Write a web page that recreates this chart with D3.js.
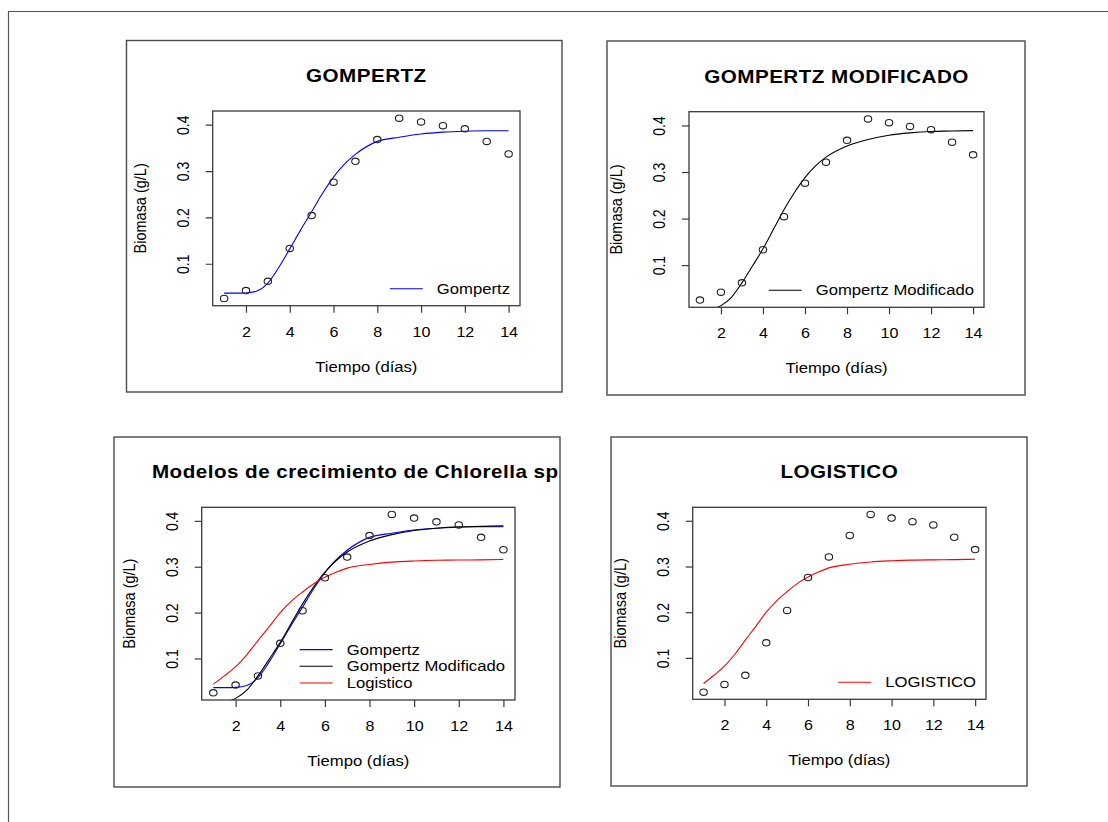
<!DOCTYPE html>
<html>
<head>
<meta charset="utf-8">
<script src="https://cdn.jsdelivr.net/npm/d3@7"></script>
<style>
    body { margin: 0; background: #fff; }
    svg text { font-family: "Liberation Sans", Arial, sans-serif; fill: #000; }
</style>
</head>
<body>
<div id="figura"></div>
<script>
// datos observados
var dias = [1, 2, 3, 4, 5, 6, 7, 8, 9, 10, 11, 12, 13, 14];
var biomasa = [0.025, 0.042, 0.062, 0.133, 0.204, 0.276, 0.321, 0.368, 0.414, 0.406, 0.398, 0.391, 0.364, 0.337];

// curvas de los modelos
var tiempoModelo = [1, 1.5, 2, 2.5, 3, 3.5, 4, 4.5, 5, 5.5, 6, 6.5, 7, 8, 9, 10, 11, 12, 13, 14];
var gompertz = [0.0365, 0.0365, 0.037, 0.041, 0.058, 0.092, 0.132, 0.173, 0.212, 0.252, 0.287, 0.315, 0.336, 0.364, 0.373, 0.380, 0.384, 0.386, 0.387, 0.387];
var gompertzModificado = [0.001, 0.004, 0.013, 0.031, 0.062, 0.098, 0.135, 0.177, 0.219, 0.256, 0.288, 0.313, 0.332, 0.356, 0.370, 0.379, 0.384, 0.387, 0.388, 0.389];
var logistico = [0.044, 0.062, 0.082, 0.108, 0.139, 0.169, 0.200, 0.225, 0.245, 0.263, 0.277, 0.288, 0.297, 0.305, 0.310, 0.3125, 0.314, 0.3146, 0.315, 0.316];

var xTicks = [2, 4, 6, 8, 10, 12, 14];
var yTicks = [0.1, 0.2, 0.3, 0.4];
var titulos = ['GOMPERTZ', 'GOMPERTZ MODIFICADO', 'Modelos de crecimiento de Chlorella sp.', 'LOGISTICO'];
var etiquetaX = 'Tiempo (días)';
var etiquetaY = 'Biomasa (g/L)';

var SX = 1.15;      // la imagen original esta algo estirada en horizontal
var LINEA = '#3a3a3a';

var series = {
    gompertz: { values: gompertz, color: 'blue' },
    modificado: { values: gompertzModificado, color: 'black' },
    logistico: { values: logistico, color: 'red' }
};

var paneles = [
    { titulo: titulos[0], box: [126.5, 40.5, 562, 392], plot: [212.7, 111, 520, 305.7],
      curvas: ['gompertz'], leyenda: ['Gompertz'] },
    { titulo: titulos[1], box: [607, 41, 1025, 395], plot: [689, 111.7, 984, 307.3],
      curvas: ['modificado'], leyenda: ['Gompertz Modificado'] },
    { titulo: titulos[2], box: [114, 437, 560, 787], plot: [201.7, 507.3, 515, 700],
      curvas: ['gompertz', 'modificado', 'logistico'], leyenda: ['Gompertz', 'Gompertz Modificado', 'Logistico'] },
    { titulo: titulos[3], box: [611, 437, 1027, 786], plot: [692.7, 507.3, 986, 699.3],
      curvas: ['logistico'], leyenda: ['LOGISTICO'] }
];

function rangoR(valores) {
    // como R: el rango de los datos con un 4% extra a cada lado
    var ext = d3.extent(valores);
    var d = (ext[1] - ext[0]) * 0.04;
    return [ext[0] - d, ext[1] + d];
}

function escribir(g, x, y, str, size, opts) {
    opts = opts || {};
    var sx = opts.sx || SX;
    var t = g.append('text')
        .attr('font-size', size)
        .attr('text-anchor', opts.anchor || 'middle')
        .attr('transform', 'translate(' + x + ',' + y + ') scale(' + sx + ',1)' + (opts.rotar ? ' rotate(-90)' : ''))
        .text(str);
    if (opts.bold) t.attr('font-weight', 'bold');
    if (opts.spacing) t.attr('letter-spacing', opts.spacing);
    return t;
}

class Panel {
    constructor(svg, details, idx) {
        this.svg = svg;
        this.d = details;
        this.idx = idx;
        var p = details.plot;
        this.x = d3.scaleLinear().domain(rangoR(dias)).range([p[0], p[2]]);
        this.y = d3.scaleLinear().domain(rangoR(biomasa)).range([p[3], p[1]]);
    }

    draw() {
        var b = this.d.box, p = this.d.plot;
        var clipId = 'clip-box-' + this.idx;
        this.svg.append('clipPath').attr('id', clipId)
            .append('rect').attr('x', b[0]).attr('y', b[1]).attr('width', b[2] - b[0]).attr('height', b[3] - b[1]);
        var plotClip = 'clip-plot-' + this.idx;
        this.svg.append('clipPath').attr('id', plotClip)
            .append('rect').attr('x', p[0]).attr('y', p[1]).attr('width', p[2] - p[0]).attr('height', p[3] - p[1]);

        var g = this.svg.append('g').attr('clip-path', 'url(#' + clipId + ')');
        this.svg.append('rect')
            .attr('x', b[0]).attr('y', b[1]).attr('width', b[2] - b[0]).attr('height', b[3] - b[1])
            .attr('fill', 'none').attr('stroke', '#4a4a4a').attr('stroke-width', 1.4);

        var cx = (p[0] + p[2]) / 2, cy = (p[1] + p[3]) / 2;
        escribir(g, cx, p[1] - 29, this.d.titulo, 17.5, { bold: true, sx: 1.18, spacing: 0.4 });

        this.initializeAxis(g);

        escribir(g, cx, p[3] + 66, etiquetaX, 14.5);
        escribir(g, p[0] - 67, cy, etiquetaY, 14.5, { rotar: true });

        var self = this;
        var linea = d3.line()
            .x(function (d, i) { return self.x(tiempoModelo[i]); })
            .y(function (d) { return self.y(d); })
            .curve(d3.curveMonotoneX);
        var curvas = g.append('g').attr('clip-path', 'url(#' + plotClip + ')');
        this.d.curvas.forEach(function (k) {
            curvas.append('path')
                .attr('d', linea(series[k].values))
                .attr('fill', 'none')
                .attr('stroke', series[k].color)
                .attr('stroke-width', 1.1);
        });

        g.append('g').selectAll('ellipse')
            .data(biomasa)
            .join('ellipse')
            .attr('cx', function (d, i) { return self.x(dias[i]); })
            .attr('cy', function (d) { return self.y(d); })
            .attr('rx', 3.7).attr('ry', 3.2)
            .attr('fill', 'none').attr('stroke', '#222').attr('stroke-width', 1.1);

        g.append('rect')
            .attr('x', p[0]).attr('y', p[1]).attr('width', p[2] - p[0]).attr('height', p[3] - p[1])
            .attr('fill', 'none').attr('stroke', LINEA).attr('stroke-width', 1.3);

        this.drawLegend(g);
    }

    initializeAxis(g) {
        var p = this.d.plot;
        var xAxisG = g.append('g').attr('transform', 'translate(0,' + p[3] + ')')
            .call(d3.axisBottom(this.x).tickValues(xTicks).tickSize(7).tickFormat(d3.format('d')));
        var yAxisG = g.append('g').attr('transform', 'translate(' + p[0] + ',0)')
            .call(d3.axisLeft(this.y).tickValues(yTicks).tickSize(7).tickFormat(d3.format('.1f')));
        [xAxisG, yAxisG].forEach(function (a) {
            a.attr('font-size', null).attr('font-family', null);
            a.select('.domain').remove();
            a.selectAll('line').attr('stroke', LINEA).attr('stroke-width', 1.2);
        });
        xAxisG.selectAll('text')
            .attr('y', null).attr('dy', null).attr('font-size', 14)
            .attr('transform', 'translate(0,31) scale(' + SX + ',1)');
        yAxisG.selectAll('text')
            .attr('x', null).attr('dy', null).attr('font-size', 14).attr('text-anchor', 'middle')
            .attr('transform', 'translate(-24,0) scale(' + SX + ',1) rotate(-90)');
    }

    drawLegend(g) {
        var p = this.d.plot, d = this.d;
        var leg = g.append('g');
        var textos = d.leyenda.map(function (lab) {
            return escribir(leg, 0, 0, lab, 14.5, { anchor: 'start' });
        });
        var ancho = d3.max(textos, function (t) { return t.node().getComputedTextLength() * SX; });
        var x0 = p[2] - 10 - ancho;
        var n = d.leyenda.length;
        textos.forEach(function (t, i) {
            var yy = p[3] - 17 - (n - 1 - i) * 16.7;
            t.attr('transform', 'translate(' + x0 + ',' + (yy + 5) + ') scale(' + SX + ',1)');
            leg.append('line')
                .attr('x1', x0 - 47).attr('x2', x0 - 14)
                .attr('y1', yy).attr('y2', yy)
                .attr('stroke', series[d.curvas[i]].color).attr('stroke-width', 1.1);
        });
    }
}

var svg = d3.select('#figura').append('svg')
    .attr('width', 1108)
    .attr('height', 822);

svg.append('path')
    .attr('d', 'M8.5,822V11.5H1108')
    .attr('fill', 'none').attr('stroke', '#555').attr('stroke-width', 1.2);

paneles.forEach(function (d, i) {
    new Panel(svg, d, i).draw();
});
</script>
</body>
</html>
